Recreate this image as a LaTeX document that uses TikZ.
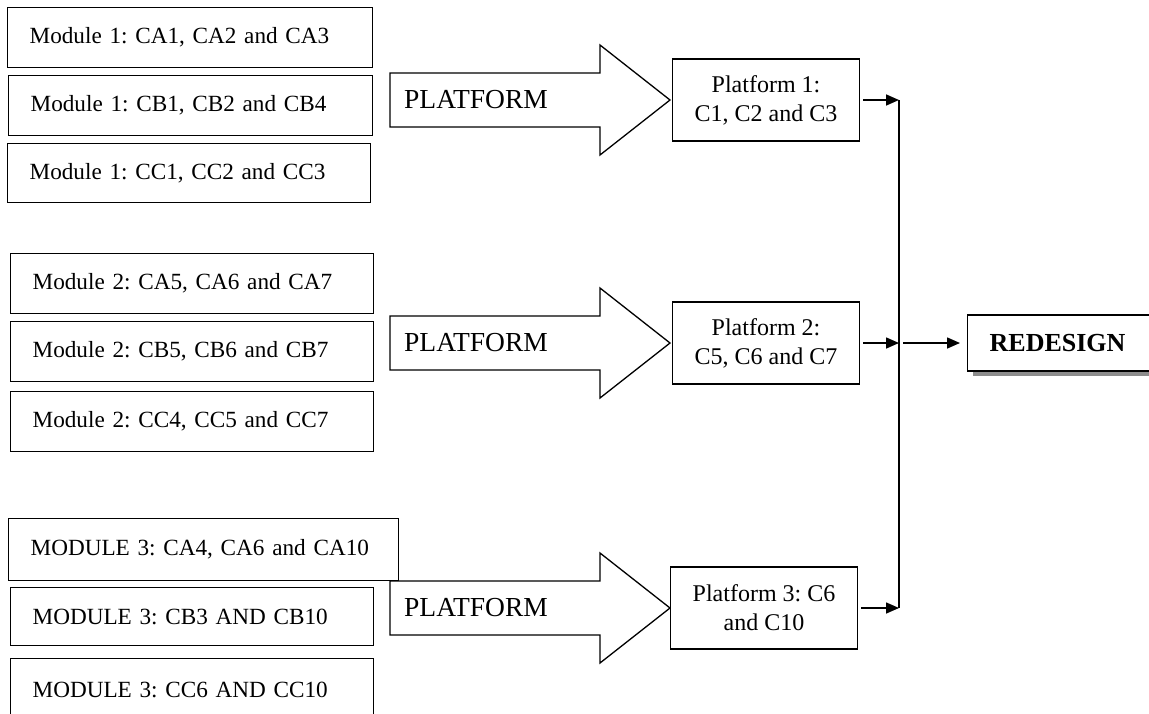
\documentclass[tikz,border=0pt]{standalone}
\usepackage{tikz}
\usetikzlibrary{positioning, arrows.meta, calc, shadows}
\usepackage{fontspec}
\setmainfont{Liberation Serif}
\usepackage{xcolor}
\definecolor{shadowgray}{HTML}{8C8C8C}
\frenchspacing

\tikzset{
  modbox/.style={draw, line width=1.3pt, fill=white, anchor=north west, align=left,
                 inner xsep=22pt, inner ysep=0pt, font=\fontsize{23.2}{28}\selectfont},
  platbox/.style={draw, line width=1.3pt, fill=white, align=center, minimum width=187pt,
                  minimum height=82pt, inner sep=2pt, font=\fontsize{24}{29}\selectfont},
  bigarrow/.style={draw, line width=1.3pt, line join=miter, fill=white},
  arrowtext/.style={anchor=west, inner sep=0pt, font=\fontsize{27.5}{32}\selectfont},
  link/.style={line width=1.6pt, -{Triangle[length=13pt,width=11pt]}},
}

\begin{document}
\begin{tikzpicture}[x=1pt, y=-1pt]
  \useasboundingbox (0,0) rectangle (1149,713);

  % module boxes
  \node[modbox, text width=321pt, minimum height=60pt] (m1a) at (7,7) {\mbox{Module 1: CA1, CA2 and CA3}};
  \node[modbox, text width=320pt, minimum height=60pt] (m1b) at (8,75) {\mbox{Module 1: CB1, CB2 and CB4}};
  \node[modbox, text width=319pt, minimum height=59pt] (m1c) at (7,143) {\mbox{Module 1: CC1, CC2 and CC3}};

  \node[modbox, text width=319pt, minimum height=60pt] (m2a) at (10,253) {\mbox{Module 2: CA5, CA6 and CA7}};
  \node[modbox, text width=319pt, minimum height=60pt] (m2b) at (10,321) {\mbox{Module 2: CB5, CB6 and CB7}};
  \node[modbox, text width=319pt, minimum height=60pt] (m2c) at (10,391) {\mbox{Module 2: CC4, CC5 and CC7}};

  \node[modbox, text width=346pt, minimum height=62pt] (m3a) at (8,518) {\mbox{MODULE 3: CA4, CA6 and CA10}};
  \node[modbox, text width=319pt, minimum height=58pt] (m3b) at (10,587) {\mbox{MODULE 3: CB3 AND CB10}};
  \node[modbox, text width=319pt, minimum height=62pt] (m3c) at (10,658) {\mbox{MODULE 3: CC6 AND CC10}};

  % big platform arrows
  \foreach \y/\n in {100/1, 343/2, 608/3}{
    \draw[bigarrow] (390,\y-27) -- (600,\y-27) -- (600,\y-55) -- (670,\y)
      -- (600,\y+55) -- (600,\y+27) -- (390,\y+27) -- cycle;
    \node[arrowtext] (pl\n) at (404,\y) {PLATFORM};
  }

  % platforms
  \node[platbox] (p1) at (766,100) {Platform 1:\\C1, C2 and C3};
  \node[platbox] (p2) at (766,343) {Platform 2:\\C5, C6 and C7};
  \node[platbox] (p3) at (764,608) {Platform 3: C6\\and C10};

  \node[draw, line width=1.3pt, fill=white, anchor=west, minimum height=56pt,
        text width=180pt, inner xsep=22pt, align=left,
        font=\bfseries\fontsize{26}{30}\selectfont,
        drop shadow={shadow xshift=5pt, shadow yshift=-5pt, fill=shadowgray, opacity=1}]
        (redesign) at (967,343) {REDESIGN};

  % connectors
  \coordinate (spine) at (899,0);
  \draw[link, shorten <=3pt] (p1.east) -- (p1.east -| spine);
  \draw[link, shorten <=3pt] (p2.east) -- (p2.east -| spine);
  \draw[link, shorten <=3pt] (p3.east) -- (p3.east -| spine);
  \draw[line width=1.6pt] (p1.east -| spine) -- (p3.east -| spine);
  \draw[link, shorten <=4pt, shorten >=7pt] (p2.east -| spine) -- (redesign.west);
\end{tikzpicture}
\end{document}
